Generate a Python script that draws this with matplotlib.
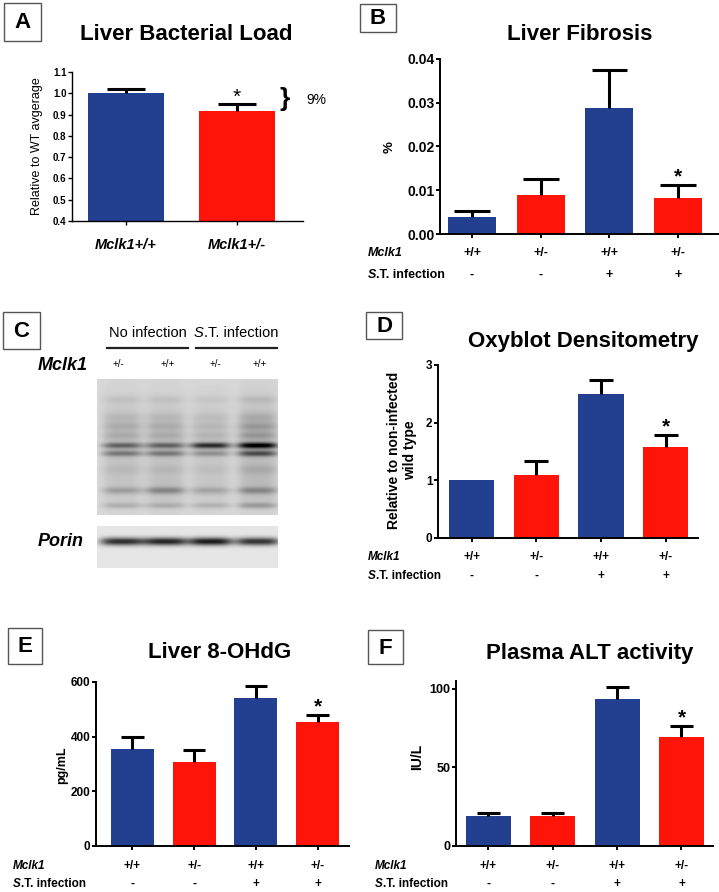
import matplotlib.pyplot as plt
from matplotlib.patches import Rectangle
import numpy as np

plt.rcParams['font.family'] = ['Liberation Sans', 'DejaVu Sans']

W, H = 719, 892
BLUE = '#22408f'
RED = '#fe1408'
PT = 72 / 100  # pixels -> points at dpi 100

# panel A
a_groups = ['Mclk1+/+', 'Mclk1+/-']
a_vals = [1.00, 0.915]
a_err = [0.02, 0.035]

# shared group labels for B, D, E, F
genotype = ['+/+', '+/-', '+/+', '+/-']
infection = ['-', '-', '+', '+']
colors4 = [BLUE, RED, BLUE, RED]

fib_vals = [0.0039, 0.0088, 0.0287, 0.0082]
fib_err = [0.0013, 0.0037, 0.0088, 0.0030]

oxy_vals = [1.00, 1.10, 2.49, 1.57]
oxy_err = [0.0, 0.23, 0.25, 0.21]

ohdg_vals = [355, 307, 542, 452]
ohdg_err = [43, 46, 45, 29]

alt_vals = [19.2, 19.0, 93.4, 69.1]
alt_err = [1.5, 1.7, 7.9, 7.0]

# western blot (panel C): lane labels and band darkness per lane
blot_lanes = ['+/-', '+/+', '+/-', '+/+']
lane_x = [25, 68, 113, 160]
label_x = [118, 168, 215, 260]
main_bands = [  # (row, sigma, darkness per lane)
    (60, 45, [0.10, 0.10, 0.08, 0.13]),
    (110, 20, [0.05, 0.07, 0.05, 0.08]),
    (20, 4, [0.05, 0.05, 0.04, 0.07]),
    (38, 5, [0.06, 0.06, 0.05, 0.09]),
    (47, 4, [0.09, 0.09, 0.06, 0.14]),
    (56, 4, [0.09, 0.09, 0.07, 0.14]),
    (66, 3, [0.38, 0.38, 0.62, 0.78]),
    (74, 3, [0.30, 0.30, 0.22, 0.45]),
    (90, 5, [0.05, 0.05, 0.04, 0.08]),
    (111, 3.5, [0.16, 0.24, 0.14, 0.22]),
    (126, 3, [0.13, 0.13, 0.12, 0.20]),
]
porin_bands = [(15, 4, [0.72, 0.76, 0.80, 0.70])]


def blot_image(h, w, bg, bands, lane_w):
    img = np.full((h, w), bg)
    xx = np.arange(w)[None, :]
    yy = np.arange(h)[:, None]
    for yc, sig, dark in bands:
        for cx, d in zip(lane_x, dark):
            img = img - d * np.exp(-((yy - yc) / sig) ** 2) * np.exp(-((xx - cx) / (lane_w / 2)) ** 4)
    return np.clip(img, 0, 1)


fig = plt.figure(figsize=(W / 100, H / 100), dpi=100)


def px_axes(l, t, r, b):
    return fig.add_axes([l / W, 1 - b / H, (r - l) / W, (b - t) / H])


def style_axes(ax, lw):
    for s in ['top', 'right']:
        ax.spines[s].set_visible(False)
    for s in ['left', 'bottom']:
        ax.spines[s].set_linewidth(lw)
    ax.tick_params(direction='out', length=3, width=lw, pad=1)
    ax.patch.set_visible(False)


def err_bars(ax, x, vals, err, cap):
    x = np.asarray(x)
    vals = np.asarray(vals)
    err = np.asarray(err)
    keep = err > 0
    top = vals + err
    ax.vlines(x[keep], vals[keep], top[keep], color='black', lw=2.2, zorder=3)
    ax.hlines(top[keep], x[keep] - cap, x[keep] + cap, color='black', lw=2.2, zorder=3)
    return top


def bars4(ax, vals, err, cap, size, off1, off2, star_off):
    x = np.arange(len(vals))
    ax.bar(x, vals, width=0.7, color=colors4, zorder=2)
    top = err_bars(ax, x, vals, err, cap)
    ax.set_xticks(x, [''] * len(x))
    for xi, g, inf in zip(x, genotype, infection):
        ax.annotate(g, xy=(xi, 0), xycoords=('data', 'axes fraction'),
                    xytext=(0, -off1 * PT), textcoords='offset points',
                    ha='center', va='center', fontsize=size, fontweight='bold',
                    annotation_clip=False)
        ax.annotate(inf, xy=(xi, 0), xycoords=('data', 'axes fraction'),
                    xytext=(0, -off2 * PT), textcoords='offset points',
                    ha='center', va='center', fontsize=size, fontweight='bold',
                    annotation_clip=False)
    ax.annotate('*', xy=(x[-1], top[-1]), xytext=(0, star_off), textcoords='offset points',
                ha='center', va='bottom', fontsize=15, fontweight='bold')


# ---------------- A ----------------
axA = px_axes(72, 72, 303, 221)
xa = np.arange(len(a_vals))
axA.bar(xa, np.array(a_vals) - 0.4, bottom=0.4, width=0.685, color=[BLUE, RED], zorder=2)
topA = err_bars(axA, xa, a_vals, a_err, 0.17)
axA.set_xlim(-0.486, 1.595)
axA.set_ylim(0.4, 1.1)
axA.set_yticks(np.arange(0.4, 1.101, 0.1))
axA.set_yticklabels(['%.1f' % v for v in np.arange(0.4, 1.101, 0.1)], fontsize=7, fontweight='bold')
axA.set_xticks(xa, [''] * 2)
style_axes(axA, 1.0)
for xi, g in zip(xa, a_groups):
    axA.annotate(g, xy=(xi, 0), xycoords=('data', 'axes fraction'), xytext=(0, -24 * PT),
                 textcoords='offset points', ha='center', va='center', fontsize=10.5,
                 fontweight='bold', fontstyle='italic', annotation_clip=False)
axA.annotate('*', xy=(1, topA[1]), xytext=(0, -2), textcoords='offset points',
             ha='center', va='bottom', fontsize=15)

# ---------------- B ----------------
axB = px_axes(440, 59, 718, 234)
bars4(axB, fib_vals, fib_err, 0.26, 9, 19, 41, -1)
axB.set_xlim(-0.466, 3.58)
axB.set_ylim(0, 0.04)
axB.set_yticks([0, 0.01, 0.02, 0.03, 0.04], ['0.00', '0.01', '0.02', '0.03', '0.04'],
               fontsize=10, fontweight='bold')
style_axes(axB, 1.4)

# ---------------- D ----------------
axD = px_axes(438, 365, 698, 538)
bars4(axD, oxy_vals, oxy_err, 0.185, 8.5, 19, 38, -1)
axD.set_xlim(-0.52, 3.5)
axD.set_ylim(0, 3)
axD.set_yticks([0, 1, 2, 3], ['0', '1', '2', '3'], fontsize=8.5, fontweight='bold')
style_axes(axD, 1.4)

# ---------------- E ----------------
axE = px_axes(96, 682, 349, 846)
bars4(axE, ohdg_vals, ohdg_err, 0.18, 8.5, 20, 38, -1)
axE.set_xlim(-0.59, 3.51)
axE.set_ylim(0, 600)
axE.set_yticks([0, 200, 400, 600], ['0', '200', '400', '600'], fontsize=8.5, fontweight='bold')
style_axes(axE, 1.4)

# ---------------- F ----------------
axF = px_axes(456, 681, 713, 846)
bars4(axF, alt_vals, alt_err, 0.18, 8.5, 20, 38, -1)
axF.set_xlim(-0.505, 3.49)
axF.set_ylim(0, 105)
axF.set_yticks([0, 50, 100], ['0', '50', '100'], fontsize=9, fontweight='bold')
style_axes(axF, 1.4)

# overlay axes in pixel coordinates for labels, boxes and the blot (on top)
ov = fig.add_axes([0, 0, 1, 1], zorder=10)
ov.axis('off')


def letter_box(x0, y0, x1, y1, s):
    ov.add_patch(Rectangle((x0, y0), x1 - x0, y1 - y0, fill=False, ec='#555555', lw=1))
    ov.text((x0 + x1) / 2, (y0 + y1) / 2 + 1, s, ha='center', va='center',
            fontsize=16, fontweight='bold')


def st_label(x, y, size):
    t = ov.text(x, y, 'S', ha='left', va='center', fontsize=size,
                fontweight='bold', fontstyle='italic')
    ov.annotate('.T. infection', xy=(1, 0), xycoords=t, va='bottom', ha='left',
                fontsize=size, fontweight='bold')


def title(x, y, s):
    ov.text(x, y, s, ha='center', va='center', fontsize=16, fontweight='bold')


# A labels
letter_box(4, 3, 41, 41, 'A')
title(186, 35, 'Liver Bacterial Load')
ov.text(37, 146, 'Relative to WT avgerage', rotation=90, ha='center', va='center', fontsize=9)
ov.text(285, 99, '}', ha='center', va='center', fontsize=19, fontweight='bold')
ov.text(306, 100, '9%', ha='left', va='center', fontsize=10)

# B labels
letter_box(360, 4, 396, 32, 'B')
title(580, 35, 'Liver Fibrosis')
ov.text(390, 147, '%', rotation=90, ha='center', va='center', fontsize=9.5, fontweight='bold')
ov.text(368, 253, 'Mclk1', ha='left', va='center', fontsize=9, fontweight='bold', fontstyle='italic')
st_label(368, 275, 9)

# C: western blot
letter_box(3, 312, 40, 349, 'C')
ov.text(148, 333, 'No infection', ha='center', va='center', fontsize=10.5)
sl = ov.text(194, 333, 'S', ha='left', va='center', fontsize=10.5, fontstyle='italic')
ov.annotate('.T. infection', xy=(1, 0), xycoords=sl, va='bottom', ha='left', fontsize=10.5)
ov.plot([107, 188], [348, 348], color='#222222', lw=1.6)
ov.plot([196, 277], [348, 348], color='#222222', lw=1.6)
ov.text(38, 365, 'Mclk1', ha='left', va='center', fontsize=13, fontweight='bold', fontstyle='italic')
for lx, lab in zip(label_x, blot_lanes):
    ov.text(lx, 364, lab, ha='center', va='center', fontsize=7)
ov.imshow(blot_image(136, 181, 0.85, main_bands, 40), cmap='gray', vmin=0, vmax=1,
          extent=(97, 278, 515, 379), aspect='auto', interpolation='bilinear')
ov.imshow(blot_image(42, 181, 0.90, porin_bands, 44), cmap='gray', vmin=0, vmax=1,
          extent=(97, 278, 568, 526), aspect='auto', interpolation='bilinear')
ov.text(38, 542, 'Porin', ha='left', va='center', fontsize=13, fontweight='bold', fontstyle='italic')

# D labels
letter_box(366, 312, 402, 339, 'D')
title(583, 342, 'Oxyblot Densitometry')
ov.text(402, 450, 'Relative to non-infected\nwild type', rotation=90, ha='center', va='center',
        fontsize=10, fontweight='bold', linespacing=1.1)
ov.text(368, 557, 'Mclk1', ha='left', va='center', fontsize=8.5, fontweight='bold', fontstyle='italic')
st_label(368, 576, 8.5)

# E labels
letter_box(8, 628, 42, 664, 'E')
title(220, 653, 'Liver 8-OHdG')
ov.text(62, 765, 'pg/mL', rotation=90, ha='center', va='center', fontsize=9, fontweight='bold')
ov.text(13, 866, 'Mclk1', ha='left', va='center', fontsize=8.5, fontweight='bold', fontstyle='italic')
st_label(13, 884, 8.5)

# F labels
letter_box(368, 630, 403, 664, 'F')
title(590, 653, 'Plasma ALT activity')
ov.text(417, 757, 'IU/L', rotation=90, ha='center', va='center', fontsize=10, fontweight='bold')
ov.text(375, 866, 'Mclk1', ha='left', va='center', fontsize=8.5, fontweight='bold', fontstyle='italic')
st_label(375, 884, 8.5)

ov.set_xlim(0, W)
ov.set_ylim(H, 0)

fig.savefig('out.png', dpi=100)
